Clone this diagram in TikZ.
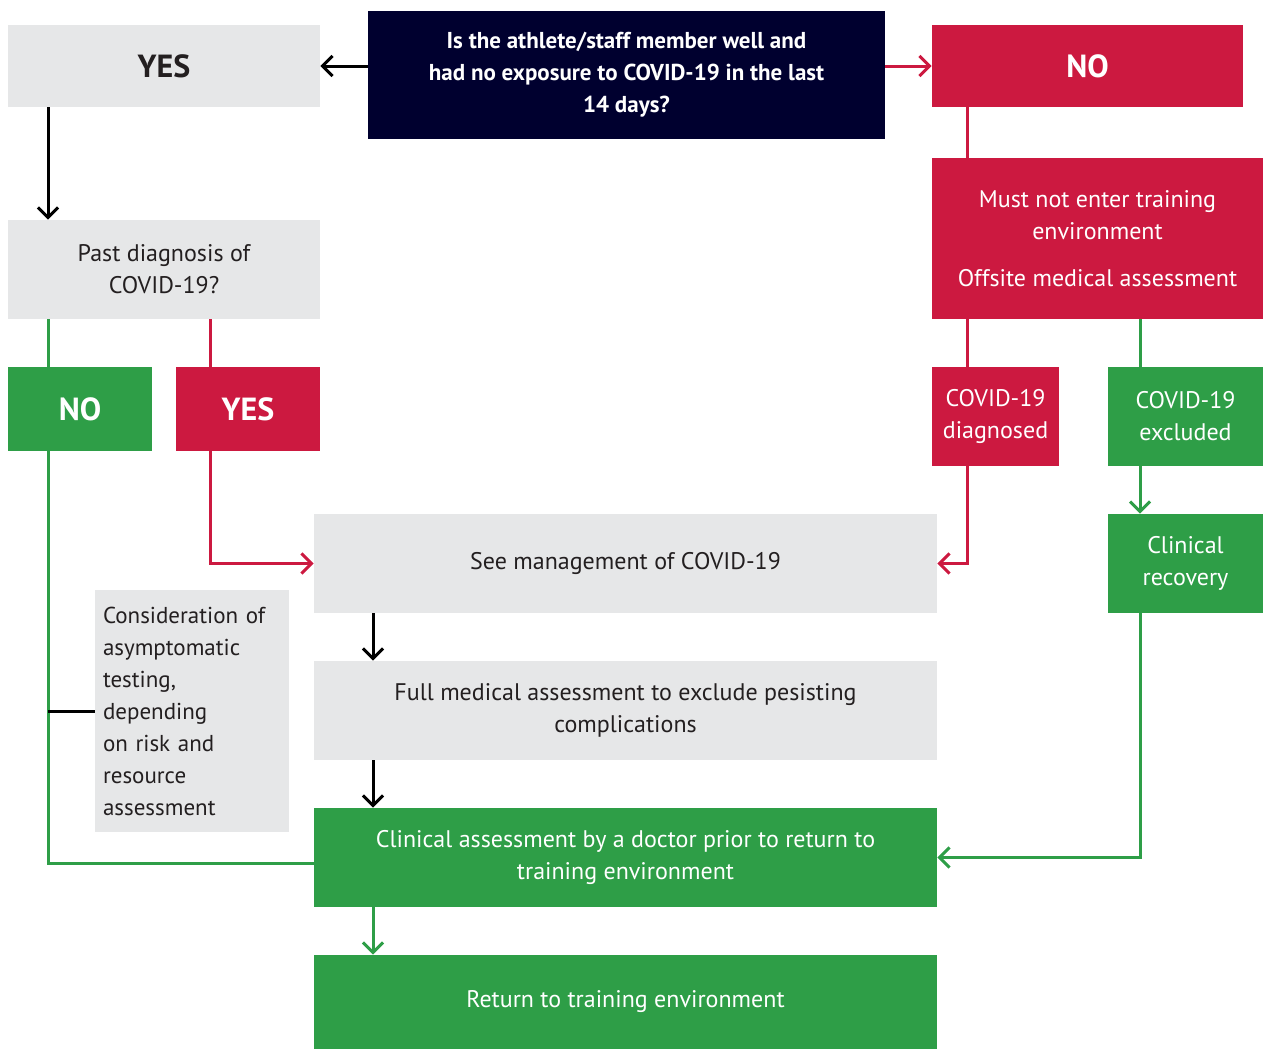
\documentclass[tikz,border=0pt]{standalone}
\usepackage{fontspec}
\setmainfont{PT Sans}
\usetikzlibrary{positioning}
\usetikzlibrary{calc}
\usetikzlibrary{arrows.meta}
\definecolor{navy}{HTML}{00002F}
\definecolor{crimson}{HTML}{CC1940}
\definecolor{leaf}{HTML}{2E9E47}
\definecolor{paper}{HTML}{E6E7E8}
\definecolor{ink}{HTML}{231F20}
\tikzset{
  box/.style      = { rectangle, inner sep=0pt, align=center,
                      font=\fontsize{12}{16}\selectfont },
  head/.style     = { font=\bfseries\fontsize{16}{20}\selectfont },
}
\tikzset{
  question/.style = { box, fill=navy, text=white,
                      font=\bfseries\fontsize{11.5}{16}\selectfont },
  greybox/.style  = { box, fill=paper, text=ink },
  redbox/.style   = { box, fill=crimson, text=white },
  greenbox/.style = { box, fill=leaf, text=white },
  link/.style     = { line width=1.5pt },
  blk/.style      = { link, black },
  rd/.style       = { link, crimson },
  gr/.style       = { link, leaf },
}

\begin{document}
\begin{tikzpicture}[
  x=0.5pt,y=-0.5pt,
  >={Straight Barb[length=5pt,width=10pt,line width=1.5pt]}
]
  \useasboundingbox (0,0) rectangle (1263,1050);

  % lanes
  \coordinate (laneA) at (48,0);
  \coordinate (laneB) at (210,0);
  \coordinate (laneC) at (373,0);
  \coordinate (laneD) at (967,0);
  \coordinate (laneE) at (1140,0);

  \node (quest)   [question,minimum width=258.5pt,minimum height=64pt]   at (626.5,75)
    {Is the athlete/staff member well and\\had no exposure to COVID-19 in the last\\14 days?};
  \node (yes1)    [greybox,head,minimum width=156pt,minimum height=41pt]  at (164,66)    {YES};
  \node (no1)     [redbox,head,minimum width=155.5pt,minimum height=41pt] at (1087.5,66) {NO};

  \node (past)    [greybox,minimum width=156pt,minimum height=49.5pt]     at (164,269.5)
    {Past diagnosis of\\COVID-19?};
  \node (mustnot) [redbox,minimum width=165.5pt,minimum height=80.5pt]    at (1097.5,238.5)
    {Must not enter training\\environment\\[7.5pt]Offsite medical assessment};

  \node (no2)     [greenbox,head,minimum width=72pt,minimum height=42pt]  at (80,409)    {NO};
  \node (yes2)    [redbox,head,minimum width=72pt,minimum height=42pt]    at (248,409)   {YES};
  \node (diag)    [redbox,minimum width=63.5pt,minimum height=49.5pt]     at (995.5,416.5)
    {COVID-19\\diagnosed};
  \node (excl)    [greenbox,minimum width=77.5pt,minimum height=49.5pt]   at (1185.5,416.5)
    {COVID-19\\excluded};

  \node (seemgmt) [greybox,minimum width=311.5pt,minimum height=49.5pt]   at (625.5,563.5)
    {See management of COVID-19};
  \node (recov)   [greenbox,minimum width=77.5pt,minimum height=49.5pt]   at (1185.5,563.5)
    {Clinical\\recovery};
  \node (consid)  [greybox,align=left,minimum width=97pt,minimum height=121pt,
                   text width=89pt,inner xsep=4pt,
                   font=\fontsize{11.5}{16}\selectfont] at (192,711)
    {Consideration of\\asymptomatic\\testing,\\depending\\on risk and\\resource\\assessment};
  \node (fullmed) [greybox,minimum width=311.5pt,minimum height=49.5pt]   at (625.5,710.5)
    {Full medical assessment to exclude pesisting\\complications};
  \node (clinass) [greenbox,minimum width=311.5pt,minimum height=49.5pt]  at (625.5,857.5)
    {Clinical assessment by a doctor prior to return to\\training environment};
  \node (ret)     [greenbox,minimum width=311.5pt,minimum height=47pt]    at (625.5,1002)
    {Return to training environment};

  \draw [blk,->] (quest.west |- yes1.east) -- (yes1.east);
  \draw [rd,->]  (quest.east |- no1.west)  -- (no1.west);
  \draw [blk,->] (yes1.south -| laneA) -- (past.north -| laneA);
  \draw [rd]     (no1.south -| laneD)  -- (mustnot.north -| laneD);

  \draw [gr]     (past.south -| laneA)    -- (no2.north -| laneA);
  \draw [rd]     (past.south -| laneB)    -- (yes2.north -| laneB);
  \draw [rd]     (mustnot.south -| laneD) -- (diag.north -| laneD);
  \draw [gr]     (mustnot.south -| laneE) -- (excl.north -| laneE);

  \draw [rd,->]  (yes2.south -| laneB) |- (seemgmt.west);
  \draw [rd,->]  (diag.south -| laneD) |- (seemgmt.east);
  \draw [gr,->]  (excl.south -| laneE) -- (recov.north -| laneE);
  \draw [gr,->]  (recov.south -| laneE) |- (clinass.east);

  \draw [blk,->] (seemgmt.south -| laneC) -- (fullmed.north -| laneC);
  \draw [blk,->] (fullmed.south -| laneC) -- (clinass.north -| laneC);
  \draw [gr,->]  (clinass.south -| laneC) -- (ret.north -| laneC);

  \draw [gr]     (no2.south -| laneA) |- ([yshift=-2.75pt]clinass.west);
  \draw [blk]    (consid.west -| laneA) -- (consid.west);
\end{tikzpicture}
\end{document}
